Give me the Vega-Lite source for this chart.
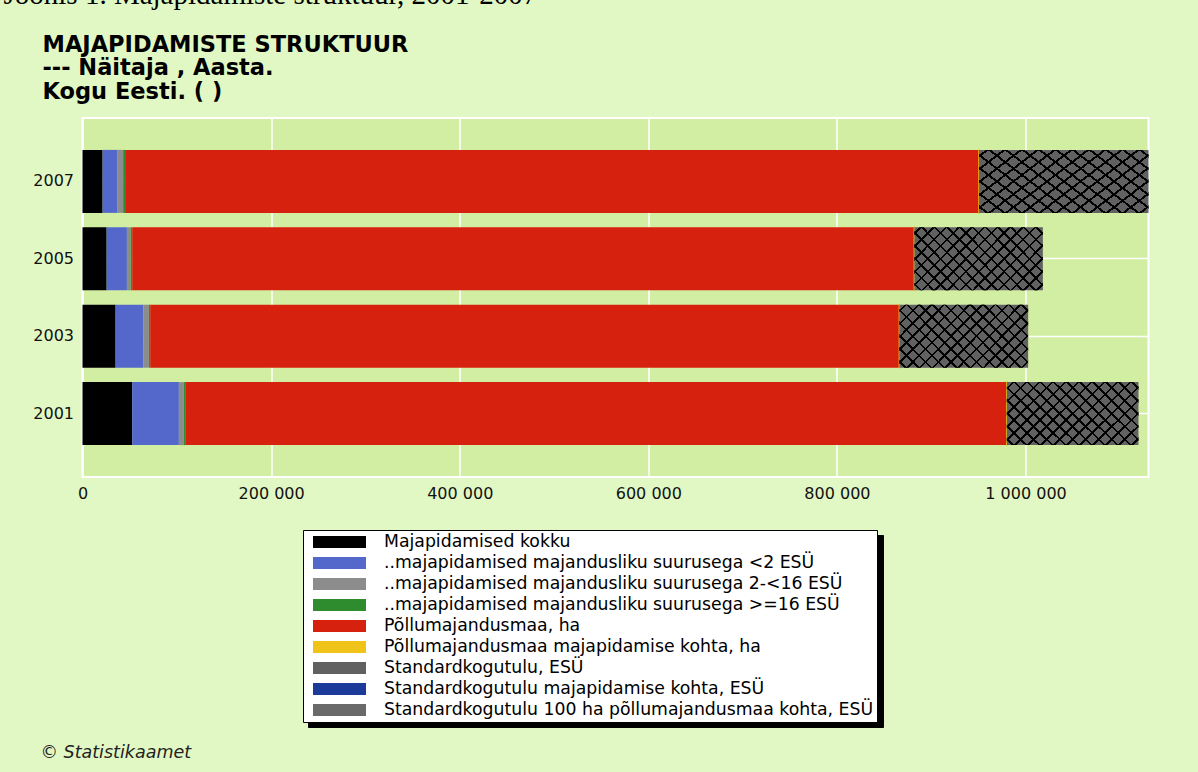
{
  "$schema": "https://vega.github.io/schema/vega-lite/v6.json",
  "autosize": {"type": "none"},
  "width": 1066,
  "height": 359,
  "padding": {"left": 82.5, "top": 118, "right": 49.5, "bottom": 295},
  "background": "#E2F8C4",
  "config": {
    "view": {"fill": "#D2EEA2", "stroke": "white", "strokeWidth": 2}
  },
  "title": {
    "text": ["MAJAPIDAMISTE STRUKTUUR", "--- Näitaja , Aasta.", "Kogu Eesti. ( )"],
    "anchor": "start",
    "frame": "group",
    "dx": -40,
    "offset": -123,
    "font": "DejaVu Sans",
    "fontSize": 22.5,
    "fontWeight": "bold",
    "color": "black",
    "lineHeight": 23.5
  },
  "data": {"values": [
    {"Aasta": "2001", "Naitaja": "Majapidamised kokku", "ord": 1, "v": 52700},
    {"Aasta": "2001", "Naitaja": "..majapidamised majandusliku suurusega <2 ESÜ", "ord": 2, "v": 49500},
    {"Aasta": "2001", "Naitaja": "..majapidamised majandusliku suurusega 2-<16 ESÜ", "ord": 3, "v": 5300},
    {"Aasta": "2001", "Naitaja": "..majapidamised majandusliku suurusega >=16 ESÜ", "ord": 4, "v": 2100},
    {"Aasta": "2001", "Naitaja": "Põllumajandusmaa, ha", "ord": 5, "v": 870500},
    {"Aasta": "2001", "Naitaja": "Põllumajandusmaa majapidamise kohta, ha", "ord": 6, "v": 15.6},
    {"Aasta": "2001", "Naitaja": "Standardkogutulu, ESÜ", "ord": 7, "v": 139600},
    {"Aasta": "2001", "Naitaja": "Standardkogutulu majapidamise kohta, ESÜ", "ord": 8, "v": 2.5},
    {"Aasta": "2001", "Naitaja": "Standardkogutulu 100 ha põllumajandusmaa kohta, ESÜ", "ord": 9, "v": 16.0},
    {"Aasta": "2003", "Naitaja": "Majapidamised kokku", "ord": 1, "v": 35100},
    {"Aasta": "2003", "Naitaja": "..majapidamised majandusliku suurusega <2 ESÜ", "ord": 2, "v": 29300},
    {"Aasta": "2003", "Naitaja": "..majapidamised majandusliku suurusega 2-<16 ESÜ", "ord": 3, "v": 6000},
    {"Aasta": "2003", "Naitaja": "..majapidamised majandusliku suurusega >=16 ESÜ", "ord": 4, "v": 1400},
    {"Aasta": "2003", "Naitaja": "Põllumajandusmaa, ha", "ord": 5, "v": 794400},
    {"Aasta": "2003", "Naitaja": "Põllumajandusmaa majapidamise kohta, ha", "ord": 6, "v": 21.6},
    {"Aasta": "2003", "Naitaja": "Standardkogutulu, ESÜ", "ord": 7, "v": 136500},
    {"Aasta": "2003", "Naitaja": "Standardkogutulu majapidamise kohta, ESÜ", "ord": 8, "v": 3.7},
    {"Aasta": "2003", "Naitaja": "Standardkogutulu 100 ha põllumajandusmaa kohta, ESÜ", "ord": 9, "v": 17.2},
    {"Aasta": "2005", "Naitaja": "Majapidamised kokku", "ord": 1, "v": 25600},
    {"Aasta": "2005", "Naitaja": "..majapidamised majandusliku suurusega <2 ESÜ", "ord": 2, "v": 21500},
    {"Aasta": "2005", "Naitaja": "..majapidamised majandusliku suurusega 2-<16 ESÜ", "ord": 3, "v": 3900},
    {"Aasta": "2005", "Naitaja": "..majapidamised majandusliku suurusega >=16 ESÜ", "ord": 4, "v": 1700},
    {"Aasta": "2005", "Naitaja": "Põllumajandusmaa, ha", "ord": 5, "v": 829400},
    {"Aasta": "2005", "Naitaja": "Põllumajandusmaa majapidamise kohta, ha", "ord": 6, "v": 29.9},
    {"Aasta": "2005", "Naitaja": "Standardkogutulu, ESÜ", "ord": 7, "v": 136200},
    {"Aasta": "2005", "Naitaja": "Standardkogutulu majapidamise kohta, ESÜ", "ord": 8, "v": 4.9},
    {"Aasta": "2005", "Naitaja": "Standardkogutulu 100 ha põllumajandusmaa kohta, ESÜ", "ord": 9, "v": 16.4},
    {"Aasta": "2007", "Naitaja": "Majapidamised kokku", "ord": 1, "v": 21300},
    {"Aasta": "2007", "Naitaja": "..majapidamised majandusliku suurusega <2 ESÜ", "ord": 2, "v": 15900},
    {"Aasta": "2007", "Naitaja": "..majapidamised majandusliku suurusega 2-<16 ESÜ", "ord": 3, "v": 5900},
    {"Aasta": "2007", "Naitaja": "..majapidamised majandusliku suurusega >=16 ESÜ", "ord": 4, "v": 2100},
    {"Aasta": "2007", "Naitaja": "Põllumajandusmaa, ha", "ord": 5, "v": 905500},
    {"Aasta": "2007", "Naitaja": "Põllumajandusmaa majapidamise kohta, ha", "ord": 6, "v": 38.8},
    {"Aasta": "2007", "Naitaja": "Standardkogutulu, ESÜ", "ord": 7, "v": 179600},
    {"Aasta": "2007", "Naitaja": "Standardkogutulu majapidamise kohta, ESÜ", "ord": 8, "v": 7.7},
    {"Aasta": "2007", "Naitaja": "Standardkogutulu 100 ha põllumajandusmaa kohta, ESÜ", "ord": 9, "v": 19.8}
  ]},
  "transform": [
    {"stack": "v", "groupby": ["Aasta"], "sort": [{"field": "ord", "order": "ascending"}], "as": ["x0", "x1"]}
  ],
  "encoding": {
    "y": {
      "field": "Aasta", "type": "ordinal", "sort": "descending",
      "scale": {"paddingInner": 0.186, "paddingOuter": 0.412},
      "axis": {
        "grid": true, "gridColor": "white", "gridWidth": 1.5, "bandPosition": 0.5,
        "domain": false, "ticks": false, "labelFont": "DejaVu Sans", "labelFontSize": 16,
        "labelColor": "#111111", "labelPadding": 9,
        "title": "Joonis 1. Majapidamiste struktuur, 2001-2007", "titleAngle": 0,
        "titleX": -79.5, "titleY": -115, "titleAlign": "left", "titleBaseline": "alphabetic",
        "titleFont": "Liberation Serif", "titleFontSize": 29, "titleFontWeight": "normal", "titleColor": "black"
      }
    },
    "x": {
      "field": "x0", "type": "quantitative",
      "scale": {"domain": [0, 1130366], "nice": false, "zero": true},
      "axis": {
        "values": [0, 200000, 400000, 600000, 800000, 1000000],
        "labelExpr": "replace(format(datum.value, ',.0f'), regexp(',', 'g'), ' ')",
        "grid": true, "gridColor": "white", "gridWidth": 1.5, "domain": false, "ticks": false,
        "labelFont": "DejaVu Sans", "labelFontSize": 16, "labelColor": "#111111", "labelPadding": 8.5,
        "labelFlush": false, "labelOverlap": false,
        "title": "© Statistikaamet", "titleFont": "DejaVu Sans", "titleFontStyle": "italic",
        "titleFontWeight": "normal", "titleFontSize": 17.5, "titleColor": "#222222",
        "titleX": -42.5, "titleY": 280, "titleAlign": "left", "titleBaseline": "alphabetic", "titleAnchor": "start"
      }
    },
    "x2": {"field": "x1"}
  },
  "layer": [
    {
      "mark": {"type": "bar", "opacity": 0},
      "encoding": {
        "fill": {
          "field": "Naitaja", "type": "nominal",
          "scale": {"range": ["#000000"]},
          "legend": {
            "title": null, "orient": "none", "legendX": 225.5, "legendY": 417,
            "values": ["Majapidamised kokku"],
            "fillColor": "black", "strokeColor": "black", "padding": 0, "cornerRadius": 0,
            "symbolType": "M-1,-0.33391H1V0.33391H-1Z", "symbolSize": 330625, "symbolStrokeWidth": 0, "symbolOffset": 0,
            "labelOffset": 0, "labelExpr": "''", "labelFontSize": 17, "labelColor": "black",
            "clipHeight": 192, "zindex": 1
          }
        }
      }
    },
    {
      "mark": {"type": "bar", "strokeWidth": 1.5},
      "encoding": {
        "color": {
          "field": "Naitaja", "type": "nominal",
          "scale": {
            "domain": [
              "Majapidamised kokku",
              "..majapidamised majandusliku suurusega <2 ESÜ",
              "..majapidamised majandusliku suurusega 2-<16 ESÜ",
              "..majapidamised majandusliku suurusega >=16 ESÜ",
              "Põllumajandusmaa, ha",
              "Põllumajandusmaa majapidamise kohta, ha",
              "Standardkogutulu, ESÜ",
              "Standardkogutulu majapidamise kohta, ESÜ",
              "Standardkogutulu 100 ha põllumajandusmaa kohta, ESÜ"
            ],
            "range": ["#000000", "#5468CC", "#8C8C8C", "#2E8B2E", "#D6210F", "#EFC318", "#616161", "#1C3A9A", "#6A6A6A"]
          },
          "legend": {
            "title": null, "orient": "none", "legendX": 220.5, "legendY": 412, "direction": "vertical", "columns": 1,
            "fillColor": "white", "strokeColor": "black", "padding": 3, "cornerRadius": 0,
            "symbolType": "M-1,-0.2264H1V0.2264H-1Z", "symbolSize": 2809, "symbolStrokeWidth": 0, "symbolOffset": 7,
            "labelOffset": 18, "labelFont": "DejaVu Sans", "labelFontSize": 17.3, "labelColor": "black", "labelLimit": 800,
            "clipHeight": 18, "rowPadding": 3, "zindex": 2
          }
        },
        "stroke": {
          "condition": {"test": "datum.Naitaja === 'Põllumajandusmaa majapidamise kohta, ha'", "value": "#EFC318"},
          "value": "transparent"
        }
      }
    },
    {
      "transform": [{"filter": "datum.ord === 7"}],
      "mark": {
        "type": "bar",
        "fill": {
          "gradient": "linear", "x1": 0, "y1": 1, "x2": 1.2023, "y2": 0.4174,
          "stops": [
            {"offset": 0, "color": "rgba(0,0,0,0)"},
            {"offset": 0.027, "color": "rgba(0,0,0,0)"}, {"offset": 0.027, "color": "#000000"}, {"offset": 0.04, "color": "#000000"}, {"offset": 0.04, "color": "rgba(0,0,0,0)"},
            {"offset": 0.0937, "color": "rgba(0,0,0,0)"}, {"offset": 0.0937, "color": "#000000"}, {"offset": 0.1067, "color": "#000000"}, {"offset": 0.1067, "color": "rgba(0,0,0,0)"},
            {"offset": 0.1603, "color": "rgba(0,0,0,0)"}, {"offset": 0.1603, "color": "#000000"}, {"offset": 0.1733, "color": "#000000"}, {"offset": 0.1733, "color": "rgba(0,0,0,0)"},
            {"offset": 0.227, "color": "rgba(0,0,0,0)"}, {"offset": 0.227, "color": "#000000"}, {"offset": 0.24, "color": "#000000"}, {"offset": 0.24, "color": "rgba(0,0,0,0)"},
            {"offset": 0.2937, "color": "rgba(0,0,0,0)"}, {"offset": 0.2937, "color": "#000000"}, {"offset": 0.3067, "color": "#000000"}, {"offset": 0.3067, "color": "rgba(0,0,0,0)"},
            {"offset": 0.3603, "color": "rgba(0,0,0,0)"}, {"offset": 0.3603, "color": "#000000"}, {"offset": 0.3733, "color": "#000000"}, {"offset": 0.3733, "color": "rgba(0,0,0,0)"},
            {"offset": 0.427, "color": "rgba(0,0,0,0)"}, {"offset": 0.427, "color": "#000000"}, {"offset": 0.44, "color": "#000000"}, {"offset": 0.44, "color": "rgba(0,0,0,0)"},
            {"offset": 0.4937, "color": "rgba(0,0,0,0)"}, {"offset": 0.4937, "color": "#000000"}, {"offset": 0.5067, "color": "#000000"}, {"offset": 0.5067, "color": "rgba(0,0,0,0)"},
            {"offset": 0.5603, "color": "rgba(0,0,0,0)"}, {"offset": 0.5603, "color": "#000000"}, {"offset": 0.5733, "color": "#000000"}, {"offset": 0.5733, "color": "rgba(0,0,0,0)"},
            {"offset": 0.627, "color": "rgba(0,0,0,0)"}, {"offset": 0.627, "color": "#000000"}, {"offset": 0.64, "color": "#000000"}, {"offset": 0.64, "color": "rgba(0,0,0,0)"},
            {"offset": 0.6937, "color": "rgba(0,0,0,0)"}, {"offset": 0.6937, "color": "#000000"}, {"offset": 0.7067, "color": "#000000"}, {"offset": 0.7067, "color": "rgba(0,0,0,0)"},
            {"offset": 0.7603, "color": "rgba(0,0,0,0)"}, {"offset": 0.7603, "color": "#000000"}, {"offset": 0.7733, "color": "#000000"}, {"offset": 0.7733, "color": "rgba(0,0,0,0)"},
            {"offset": 0.827, "color": "rgba(0,0,0,0)"}, {"offset": 0.827, "color": "#000000"}, {"offset": 0.84, "color": "#000000"}, {"offset": 0.84, "color": "rgba(0,0,0,0)"},
            {"offset": 0.8937, "color": "rgba(0,0,0,0)"}, {"offset": 0.8937, "color": "#000000"}, {"offset": 0.9067, "color": "#000000"}, {"offset": 0.9067, "color": "rgba(0,0,0,0)"},
            {"offset": 0.9603, "color": "rgba(0,0,0,0)"}, {"offset": 0.9603, "color": "#000000"}, {"offset": 0.9733, "color": "#000000"}, {"offset": 0.9733, "color": "rgba(0,0,0,0)"},
            {"offset": 1, "color": "rgba(0,0,0,0)"}
          ]
        }
      }
    },
    {
      "transform": [{"filter": "datum.ord === 7"}],
      "mark": {
        "type": "bar",
        "fill": {
          "gradient": "linear", "x1": 0, "y1": 0, "x2": 1.2023, "y2": 0.5826,
          "stops": [
            {"offset": 0, "color": "rgba(0,0,0,0)"},
            {"offset": 0.027, "color": "rgba(0,0,0,0)"}, {"offset": 0.027, "color": "#000000"}, {"offset": 0.04, "color": "#000000"}, {"offset": 0.04, "color": "rgba(0,0,0,0)"},
            {"offset": 0.0937, "color": "rgba(0,0,0,0)"}, {"offset": 0.0937, "color": "#000000"}, {"offset": 0.1067, "color": "#000000"}, {"offset": 0.1067, "color": "rgba(0,0,0,0)"},
            {"offset": 0.1603, "color": "rgba(0,0,0,0)"}, {"offset": 0.1603, "color": "#000000"}, {"offset": 0.1733, "color": "#000000"}, {"offset": 0.1733, "color": "rgba(0,0,0,0)"},
            {"offset": 0.227, "color": "rgba(0,0,0,0)"}, {"offset": 0.227, "color": "#000000"}, {"offset": 0.24, "color": "#000000"}, {"offset": 0.24, "color": "rgba(0,0,0,0)"},
            {"offset": 0.2937, "color": "rgba(0,0,0,0)"}, {"offset": 0.2937, "color": "#000000"}, {"offset": 0.3067, "color": "#000000"}, {"offset": 0.3067, "color": "rgba(0,0,0,0)"},
            {"offset": 0.3603, "color": "rgba(0,0,0,0)"}, {"offset": 0.3603, "color": "#000000"}, {"offset": 0.3733, "color": "#000000"}, {"offset": 0.3733, "color": "rgba(0,0,0,0)"},
            {"offset": 0.427, "color": "rgba(0,0,0,0)"}, {"offset": 0.427, "color": "#000000"}, {"offset": 0.44, "color": "#000000"}, {"offset": 0.44, "color": "rgba(0,0,0,0)"},
            {"offset": 0.4937, "color": "rgba(0,0,0,0)"}, {"offset": 0.4937, "color": "#000000"}, {"offset": 0.5067, "color": "#000000"}, {"offset": 0.5067, "color": "rgba(0,0,0,0)"},
            {"offset": 0.5603, "color": "rgba(0,0,0,0)"}, {"offset": 0.5603, "color": "#000000"}, {"offset": 0.5733, "color": "#000000"}, {"offset": 0.5733, "color": "rgba(0,0,0,0)"},
            {"offset": 0.627, "color": "rgba(0,0,0,0)"}, {"offset": 0.627, "color": "#000000"}, {"offset": 0.64, "color": "#000000"}, {"offset": 0.64, "color": "rgba(0,0,0,0)"},
            {"offset": 0.6937, "color": "rgba(0,0,0,0)"}, {"offset": 0.6937, "color": "#000000"}, {"offset": 0.7067, "color": "#000000"}, {"offset": 0.7067, "color": "rgba(0,0,0,0)"},
            {"offset": 0.7603, "color": "rgba(0,0,0,0)"}, {"offset": 0.7603, "color": "#000000"}, {"offset": 0.7733, "color": "#000000"}, {"offset": 0.7733, "color": "rgba(0,0,0,0)"},
            {"offset": 0.827, "color": "rgba(0,0,0,0)"}, {"offset": 0.827, "color": "#000000"}, {"offset": 0.84, "color": "#000000"}, {"offset": 0.84, "color": "rgba(0,0,0,0)"},
            {"offset": 0.8937, "color": "rgba(0,0,0,0)"}, {"offset": 0.8937, "color": "#000000"}, {"offset": 0.9067, "color": "#000000"}, {"offset": 0.9067, "color": "rgba(0,0,0,0)"},
            {"offset": 0.9603, "color": "rgba(0,0,0,0)"}, {"offset": 0.9603, "color": "#000000"}, {"offset": 0.9733, "color": "#000000"}, {"offset": 0.9733, "color": "rgba(0,0,0,0)"},
            {"offset": 1, "color": "rgba(0,0,0,0)"}
          ]
        }
      }
    }
  ]
}
